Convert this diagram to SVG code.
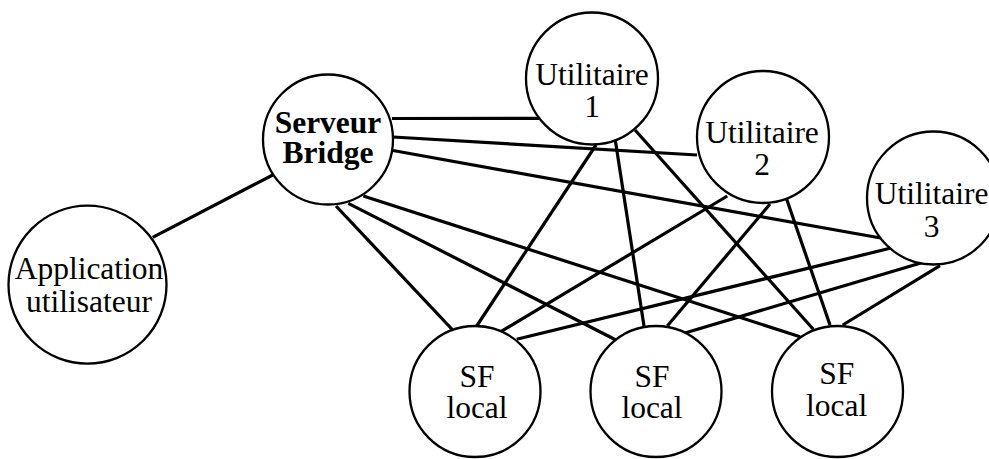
<svg xmlns="http://www.w3.org/2000/svg" width="989" height="459" viewBox="0 0 989 459">
<style>
.bg{fill:#ffffff}
.node{fill:#ffffff;stroke:#000000;stroke-width:2.3}
.edge{stroke:#000000;stroke-width:3.2;stroke-linecap:butt;fill:none}
.lbl{font-family:"Liberation Serif","Times New Roman",serif;font-size:31.5px;fill:#000000;text-anchor:middle}
.bold{font-weight:bold}
</style>
<rect class="bg" x="0" y="0" width="989" height="459"/>
<g id="connectors">
<line class="edge" x1="272.7" y1="175" x2="152.7" y2="237.3"/>
<line class="edge" x1="392" y1="118.5" x2="539" y2="118.3"/>
<line class="edge" x1="393" y1="137" x2="697" y2="155"/>
<line class="edge" x1="393" y1="150.5" x2="882" y2="238.3"/>
<line class="edge" x1="336" y1="206" x2="452.7" y2="330"/>
<line class="edge" x1="348.3" y1="203.3" x2="616" y2="340"/>
<line class="edge" x1="363.3" y1="196" x2="800" y2="336.7"/>
<line class="edge" x1="596" y1="145" x2="476.7" y2="326"/>
<line class="edge" x1="615" y1="138.3" x2="644" y2="326"/>
<line class="edge" x1="635" y1="130" x2="813.3" y2="329.3"/>
<line class="edge" x1="727.3" y1="196" x2="500.7" y2="331.7"/>
<line class="edge" x1="770" y1="204" x2="667.3" y2="326"/>
<line class="edge" x1="786.7" y1="199.3" x2="830" y2="325"/>
<line class="edge" x1="890" y1="248.3" x2="516.7" y2="339.3"/>
<line class="edge" x1="921.7" y1="262.7" x2="684" y2="333.3"/>
<line class="edge" x1="940" y1="265.7" x2="842.7" y2="325"/>
</g>
<g id="serveur-bridge">
<circle class="node" cx="328" cy="139.5" r="65"/>
<text class="lbl bold" x="328" y="133">Serveur</text>
<text class="lbl bold" x="328" y="163">Bridge</text>
</g>
<g id="application-utilisateur">
<circle class="node" cx="87.5" cy="284.7" r="79"/>
<text class="lbl" x="89" y="279">Application</text>
<text class="lbl" x="89" y="311.5">utilisateur</text>
</g>
<g id="utilitaire-1">
<circle class="node" cx="592" cy="78.5" r="66"/>
<text class="lbl" x="592" y="85">Utilitaire</text>
<text class="lbl" x="592" y="116.7">1</text>
</g>
<g id="utilitaire-2">
<circle class="node" cx="763" cy="137" r="66"/>
<text class="lbl" x="762" y="143.3">Utilitaire</text>
<text class="lbl" x="762" y="175">2</text>
</g>
<g id="utilitaire-3">
<circle class="node" cx="933.5" cy="198" r="66.5"/>
<text class="lbl" x="931.7" y="204.3">Utilitaire</text>
<text class="lbl" x="931.7" y="236.7">3</text>
</g>
<g id="sf-local-1">
<circle class="node" cx="475" cy="391.5" r="65.5"/>
<text class="lbl" x="477" y="386.5">SF</text>
<text class="lbl" x="477" y="417.5">local</text>
</g>
<g id="sf-local-2">
<circle class="node" cx="656" cy="391.5" r="65.5"/>
<text class="lbl" x="652" y="386.5">SF</text>
<text class="lbl" x="652" y="417.5">local</text>
</g>
<g id="sf-local-3">
<circle class="node" cx="837.5" cy="391.5" r="65.5"/>
<text class="lbl" x="836.7" y="384">SF</text>
<text class="lbl" x="836.7" y="415.5">local</text>
</g>
</svg>
